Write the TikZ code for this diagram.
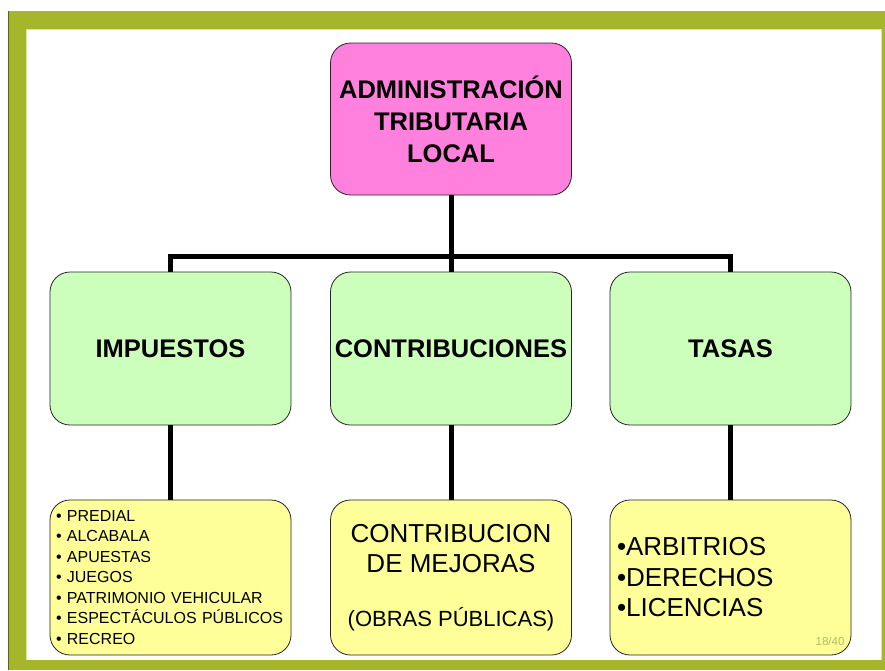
\documentclass[tikz,border=0pt]{standalone}
\usepackage{fontspec}
\setmainfont{Liberation Sans}
\definecolor{framegreen}{HTML}{A5B62A}
\definecolor{framedark}{HTML}{5A6318}
\definecolor{framelight}{HTML}{DCE6A8}
\definecolor{headpink}{HTML}{FF80DD}
\definecolor{midgreen}{HTML}{CCFFBB}
\definecolor{lowyellow}{HTML}{FFFF99}
\definecolor{pagenum}{HTML}{AABD5E}

\begin{document}
\begin{tikzpicture}
      [x = 1pt, y = -1pt,
      box/.style= {
         draw = black!85,
         line width = 0.8pt,
         rounded corners = 20pt,
         minimum width = 241pt,
         minimum height = 153pt,
         inner sep = 0pt,
         align = center
      },
      head/.style= {
         box,
         fill = headpink,
         minimum height = 152pt,
         font = \fontsize{25.5}{32}\selectfont\bfseries
      },
      kind/.style= {
         box,
         fill = midgreen,
         font = \fontsize{25.5}{30}\selectfont\bfseries
      },
      item/.style= {
         box,
         fill = lowyellow,
         minimum height = 155pt
      },
      list/.style= {
         item,
         text width = 229pt,
         inner xsep = 6pt,
         align = left
      },
      link/.style= {line width = 5pt, line join = miter}]

      \useasboundingbox (0, 0) rectangle (885, 670);

      \fill[framegreen] (8, 11) rectangle (885, 670);
      \fill[white] (26, 29) rectangle (881, 660);
      \draw[framelight, line width = 1pt] (26, 660) -- (26, 29) -- (881, 29) -- (881, 660);
      \draw[framedark, line width = 1pt] (8.5, 11) -- (8.5, 670);

      \node[head] (admin) at (451, 119) {ADMINISTRACIÓN\\TRIBUTARIA\\LOCAL};

      \node[kind] (imp) at (170.5, 348.5) {IMPUESTOS};
      \node[kind] (contrib) at (451, 348.5) {CONTRIBUCIONES};
      \node[kind] (tasas) at (730.5, 348.5) {TASAS};

      \node[list, font = \fontsize{16}{20.5}\selectfont] (impitems) at (170.5, 577.5)
         {• PREDIAL\\• ALCABALA\\• APUESTAS\\• JUEGOS\\• PATRIMONIO VEHICULAR\\%
          • ESPECTÁCULOS PÚBLICOS\\• RECREO};
      \node[item, font = \fontsize{26}{30}\selectfont] (contribitems) at (451, 577.5)
         {CONTRIBUCION\\DE MEJORAS\\[24pt]%
          \fontsize{22}{24}\selectfont (OBRAS PÚBLICAS)};
      \node[list, inner xsep = 7pt, text width = 227pt, font = \fontsize{26}{30.5}\selectfont] (tasasitems) at (730.5, 577.5)
         {•ARBITRIOS\\•DERECHOS\\•LICENCIAS};
      \node[text = pagenum, font = \fontsize{11.5}{12}\selectfont] (page) at (830, 641) {18/40};

      \coordinate (bar) at (451, 256.5);
      \draw[link] (admin.south) -- (contrib.north);
      \draw[link] (bar) -| (imp.north);
      \draw[link] (bar) -| (tasas.north);

      \draw[link] (imp.south) -- (impitems.north);
      \draw[link] (contrib.south) -- (contribitems.north);
      \draw[link] (tasas.south) -- (tasasitems.north);

   \end{tikzpicture}
\end{document}
